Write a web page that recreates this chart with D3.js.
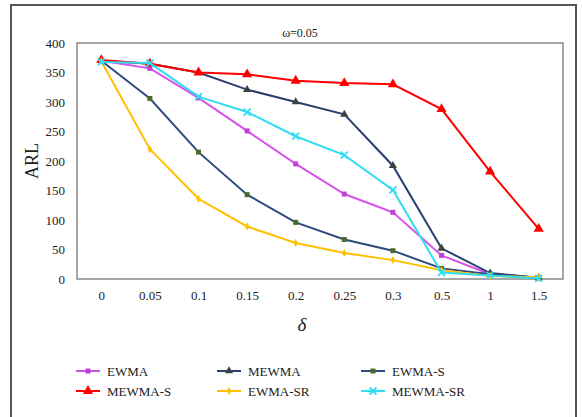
<!DOCTYPE html>
<html><head><meta charset="utf-8">
<script src="https://cdn.jsdelivr.net/npm/d3@7"></script>
<style>body{margin:0;background:#fff}svg{display:block}svg text{font-family:"Liberation Serif","Times New Roman",serif}</style>
</head><body>
<script>
const categories = ["0","0.05","0.1","0.15","0.2","0.25","0.3","0.5","1","1.5"];
const ewma    = [370,357,307,251,195,144,113,40,8,2];
const mewma   = [370,365,350,321,300,279,192,52,10,2];
const ewmaS   = [370,306,215,143,96,67,48,18,8,2];
const mewmaS  = [371,365,350,347,336,332,330,288,182,85];
const ewmaSR  = [369,220,136,89,61,44,32,15,5,3];
const mewmaSR = [368,366,309,283,242,210,151,11,6,1];
const yTicks = [0,50,100,150,200,250,300,350,400];

const series = [
  {name:"EWMA", values:ewma, line:"#d452e8", mfill:"#c040d8", marker:"square", size:5},
  {name:"MEWMA", values:mewma, line:"#2a3f6e", mfill:"#404040", marker:"triangle", size:8},
  {name:"EWMA-S", values:ewmaS, line:"#2f4a7e", mfill:"#4b6b2e", marker:"square", size:5},
  {name:"MEWMA-S", values:mewmaS, line:"#ff0000", mfill:"#ff0000", marker:"triangle", size:10},
  {name:"EWMA-SR", values:ewmaSR, line:"#ffc000", mfill:"#ffc000", marker:"diamond", size:6},
  {name:"MEWMA-SR", values:mewmaSR, line:"#33dcf0", mfill:"#33dcf0", marker:"x", size:7}
];

const W=582,H=417;
const svg=d3.select("body").append("svg").attr("width",W).attr("height",H);
svg.append("rect").attr("x",11).attr("y",5).attr("width",565).attr("height",430)
  .attr("fill","none").attr("stroke","#555").attr("stroke-width",2);

const L=77,R=563,T=43,B=279;
const x=d3.scalePoint().domain(categories).range([L,R]).padding(0.5);
const y=d3.scaleLinear().domain([0,400]).range([B,T]);

svg.append("rect").attr("x",L).attr("y",T).attr("width",R-L).attr("height",B-T)
  .attr("fill","none").attr("stroke","#888").attr("stroke-width",1.5);

const yAxis=svg.append("g").attr("transform",`translate(${L},0)`)
  .call(d3.axisLeft(y).tickValues(yTicks).tickSize(0).tickPadding(12));
yAxis.select(".domain").remove();
yAxis.selectAll("text").attr("font-size",13).attr("fill","#222");

const xAxis=svg.append("g").attr("transform",`translate(0,${B})`)
  .call(d3.axisBottom(x).tickSize(0).tickPadding(12));
xAxis.select(".domain").remove();
xAxis.selectAll("text").attr("font-size",13).attr("fill","#222");

svg.append("text").attr("x",300).attr("y",37).attr("text-anchor","middle")
  .attr("font-size",12).attr("fill","#222").text("ω=0.05");
svg.append("text").attr("transform","translate(38,161) rotate(-90)").attr("text-anchor","middle")
  .attr("font-size",18).attr("fill","#222").text("ARL");
svg.append("text").attr("x",302).attr("y",331).attr("text-anchor","middle")
  .attr("font-style","italic").attr("font-size",19).attr("fill","#222").text("δ");

function sym(type,size){
  if(type==="x"){const s=size/2;return `M${-s},${-s}L${s},${s}M${-s},${s}L${s},${-s}`;}
  const t={square:d3.symbolSquare,triangle:d3.symbolTriangle,diamond:d3.symbolDiamond}[type];
  return d3.symbol().type(t).size(size*size*(type==="triangle"?0.45:type==="diamond"?0.5:1))();
}
function drawMarker(g,s,cx,cy){
  const p=g.append("path").attr("d",sym(s.marker,s.size)).attr("transform",`translate(${cx},${cy})`);
  if(s.marker==="x") p.attr("fill","none").attr("stroke",s.mfill).attr("stroke-width",1.8);
  else p.attr("fill",s.mfill).attr("stroke","none");
}

const line=d3.line().x((d,i)=>x(categories[i])).y(d=>y(d));
series.forEach(s=>{
  const g=svg.append("g");
  g.append("path").datum(s.values).attr("d",line).attr("fill","none")
    .attr("stroke",s.line).attr("stroke-width",2);
  s.values.forEach((v,i)=>drawMarker(g,s,x(categories[i]),y(v)));
});

const legX=[76,217,361],legY=[371,391];
series.forEach((s,i)=>{
  const cx=legX[i%3], cy=legY[Math.floor(i/3)];
  const g=svg.append("g");
  g.append("line").attr("x1",cx).attr("x2",cx+24).attr("y1",cy).attr("y2",cy)
    .attr("stroke",s.line).attr("stroke-width",2);
  drawMarker(g,s,cx+12,cy);
  g.append("text").attr("x",cx+31).attr("y",cy+5)
    .attr("font-size",13).attr("fill","#222").text(s.name);
});
</script>
</body></html>
